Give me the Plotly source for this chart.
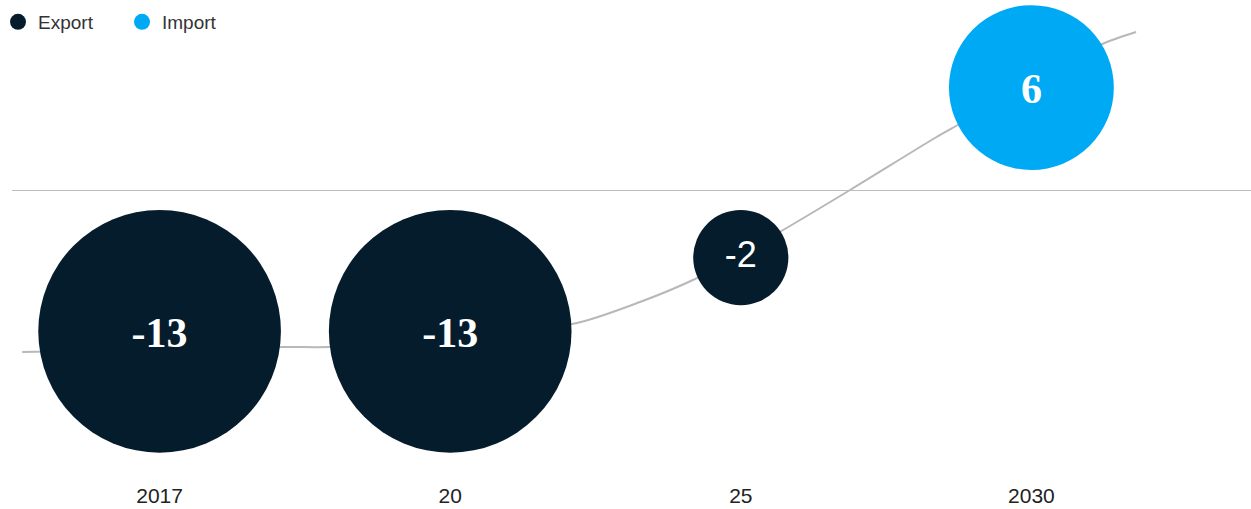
import math
import plotly.graph_objects as go

# ---- data ----
categories = ["2017", "20", "25", "2030"]
values = [-13, -13, -2, 6]
series = ["Export", "Export", "Export", "Import"]

# grey trend line (x in category index, y in chart units)
trend_x = [-0.473, 0.42, 0.586, 1.0, 1.436, 1.653, 1.835, 1.987, 2.128, 2.376, 2.668, 2.747, 3.005, 3.236, 3.36]
trend_y = [-162, -157, -157, -150, -133, -112, -90, -66, -43, 0, 52, 65, 107, 145, 158]

# ---- styles ----
COLORS = {"Export": "#051c2c", "Import": "#00a9f4"}
K = 67.3      # diameter per sqrt(|value|)
GAP = 20      # gap between zero line and bubble edge
SHIFT = 2     # page shifted left by this many px

diam = [K * math.sqrt(abs(v)) for v in values]
ypos = [(1 if v > 0 else -1) * (GAP + d / 2) for v, d in zip(values, diam)]
xidx = list(range(len(categories)))

fig = go.Figure()

fig.add_trace(go.Scatter(
    x=trend_x, y=trend_y, mode="lines",
    line=dict(color="#b8b8b8", width=2, shape="spline", smoothing=0.8),
    hoverinfo="skip", showlegend=False,
))

for name in ["Export", "Import"]:
    idx = [i for i, s in enumerate(series) if s == name]
    fig.add_trace(go.Scatter(
        x=[xidx[i] for i in idx], y=[ypos[i] for i in idx],
        mode="markers",
        marker=dict(size=[diam[i] for i in idx], sizemode="diameter",
                    color=COLORS[name], line=dict(width=0), opacity=1),
        name=name, showlegend=False, hoverinfo="skip",
    ))
    fig.add_trace(go.Scatter(
        x=[None], y=[None], mode="markers", name=name,
        marker=dict(size=18, color=COLORS[name]), showlegend=True,
    ))

# value labels
small = [abs(v) < 5 for v in values]
fig.add_trace(go.Scatter(
    x=xidx,
    y=[y - (0 if s else 5) for y, s in zip(ypos, small)],
    mode="text", text=[str(v) for v in values], textposition="middle center",
    textfont=dict(family=["Liberation Sans" if s else "Liberation Serif" for s in small],
                  size=[36 if s else 42 for s in small],
                  weight=["normal" if s else "bold" for s in small],
                  color="white"),
    showlegend=False, hoverinfo="skip",
))

W, H = 1251 + SHIFT, 509
ML, MR, MT, MB = 0, 0, 0, 28
plot_w = W - ML - MR
plot_h = H - MT - MB
PPU = 290.6
x0 = (-SHIFT - 159.6) / PPU
span = plot_w / PPU

fig.add_shape(type="line", xref="paper", yref="y",
              x0=(12 + SHIFT) / plot_w, x1=1, y0=-0.5, y1=-0.5,
              line=dict(color="#bdbdbd", width=1), layer="below")

fig.update_layout(
    width=W, height=H,
    margin=dict(l=ML, r=MR, t=MT, b=MB),
    paper_bgcolor="white", plot_bgcolor="white",
    font=dict(family="Liberation Sans", color="#222"),
    showlegend=True,
    legend=dict(orientation="h", x=0, y=1 - 3 / plot_h,
                xanchor="left", yanchor="top",
                font=dict(size=19, color="#333"),
                entrywidth=79, entrywidthmode="pixels",
                bgcolor="rgba(0,0,0,0)"),
    xaxis=dict(range=[x0, x0 + span], tickvals=xidx, ticktext=categories,
               showgrid=False, zeroline=False, showline=False, ticks="",
               tickfont=dict(size=21, color="#222"), fixedrange=True),
    yaxis=dict(range=[190 - plot_h, 190], showticklabels=False, showgrid=False,
               zeroline=False, showline=False, ticks="", fixedrange=True),
)

fig.write_html("out.html", config={"displayModeBar": False},
               post_script="document.body.style.margin='0';document.body.style.marginLeft='-%dpx';document.body.style.overflow='hidden';" % SHIFT)
